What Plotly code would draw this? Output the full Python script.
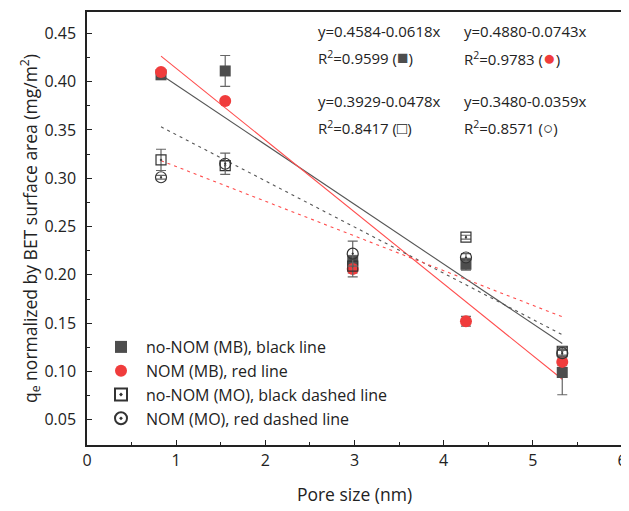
import plotly.graph_objects as go

pore = [0.83, 1.55, 2.98, 4.25, 5.33]

nonom_mb = [0.407, 0.411, 0.215, 0.211, 0.099]
nonom_mb_err = [0.003, 0.016, 0.005, 0.006, 0.023]
nom_mb = [0.410, 0.380, 0.206, 0.152, 0.110]
nom_mb_err = [0.002, 0.002, 0.004, 0.005, 0.004]
nonom_mo = [0.319, 0.313, 0.209, 0.239, 0.121]
nonom_mo_err = [0.011, 0.005, 0.011, 0.002, 0.004]
nom_mo = [0.301, 0.315, 0.222, 0.218, 0.119]
nom_mo_err = [0.002, 0.011, 0.013, 0.004, 0.004]

# fit coefficients (intercept, slope) as printed on the chart
fit_intercepts = [0.4584, 0.4880, 0.3929, 0.3480]
fit_slopes = [-0.0618, -0.0743, -0.0478, -0.0359]
fit_r2 = ["0.9599", "0.9783", "0.8417", "0.8571"]

legend_names = ["no-NOM (MB), black line", "NOM (MB), red line",
                "no-NOM (MO), black dashed line", "NOM (MO), red dashed line"]

FONT = "Open Sans, sans-serif"
GRAY = "#4d4d4d"
RED = "#f03c3c"
TXT = "#222222"

# page body adds an 8px offset; plot area targets screen px 87..622 x 12..445
W, H = 621, 503
L, R, T, B = 79, 7, 4, 66
PX0, PX1, PY0, PY1 = 87, 622, 12, 445

fig = go.Figure()

x_fit = [pore[0], pore[-1]]
line_styles = [
    dict(color="#555555", width=1.1, dash="solid"),
    dict(color="#ff4d4d", width=1.1, dash="solid"),
    dict(color="#555555", width=1.1, dash="3px,4px"),
    dict(color="#ff4d4d", width=1.1, dash="3px,4px"),
]
for a, b, ls in zip(fit_intercepts, fit_slopes, line_styles):
    fig.add_trace(go.Scatter(x=x_fit, y=[a + b * x for x in x_fit], mode="lines",
                             line=ls, showlegend=False, hoverinfo="skip"))

series = [
    (nonom_mb, nonom_mb_err, dict(symbol="square", size=11, color=GRAY)),
    (nom_mb, nom_mb_err, dict(symbol="circle", size=12, color=RED)),
    (nonom_mo, nonom_mo_err, dict(symbol="square-open-dot", size=10, color="#333333",
                                  line=dict(width=1.2, color="#333333"))),
    (nom_mo, nom_mo_err, dict(symbol="circle-open-dot", size=11, color="#333333",
                              line=dict(width=1.2, color="#333333"))),
]
for (ys, es, mk), name in zip(series, legend_names):
    fig.add_trace(go.Scatter(
        x=pore, y=ys, mode="markers", name=name, marker=mk,
        error_y=dict(type="data", array=es, visible=True, color="#666666",
                     thickness=1.2, width=5),
    ))

ann_font = dict(family=FONT, size=15, color=TXT)
labels = [
    ("y=%.4f%.4fx" % (fit_intercepts[0], fit_slopes[0]),
     "R<sup>2</sup>=%s (<span style='color:%s;font-size:19px'>■</span>)" % (fit_r2[0], GRAY), 316, 31),
    ("y=%.4f%.4fx" % (fit_intercepts[1], fit_slopes[1]),
     "R<sup>2</sup>=%s (<span style='color:%s;font-size:21px'>●</span>)" % (fit_r2[1], RED), 462, 31),
    ("y=%.4f%.4fx" % (fit_intercepts[2], fit_slopes[2]),
     "R<sup>2</sup>=%s (<span style='font-size:17px'>□</span>)" % fit_r2[2], 316, 101),
    ("y=%.4f%.4fx" % (fit_intercepts[3], fit_slopes[3]),
     "R<sup>2</sup>=%s (<span style='font-size:17px'>○</span>)" % fit_r2[3], 462, 101),
]
for l1, l2, px, py in labels:
    for txt, yy in ((l1, py), (l2, py + 26)):
        fig.add_annotation(x=(px - PX0) / (PX1 - PX0), y=(PY1 - yy) / (PY1 - PY0),
                           xref="paper", yref="paper",
                           text=txt, showarrow=False, xanchor="left", yanchor="middle",
                           font=ann_font)

axis_common = dict(
    showline=True, linecolor=TXT, linewidth=1.5, mirror=True,
    ticks="inside", ticklen=5, tickwidth=1.3, tickcolor=TXT,
    showgrid=False, zeroline=False, automargin=False,
    tickfont=dict(family=FONT, size=16, color=TXT),
)
fig.update_xaxes(range=[0, 6], dtick=1, tick0=0,
                 minor=dict(ticks="inside", ticklen=3, dtick=0.5, tickcolor=TXT),
                 title=dict(text="Pore size (nm)", font=dict(family=FONT, size=17.5, color=TXT),
                            standoff=19),
                 **axis_common)
fig.update_yaxes(range=[0.024, 0.472], dtick=0.05, tick0=0.05, tickformat=".2f",
                 ticklabelstandoff=6,
                 minor=dict(ticks="inside", ticklen=3, dtick=0.025, tickcolor=TXT),
                 title=dict(text="q<sub>e</sub> normalized by BET surface area (mg/m<sup>2</sup>)",
                            font=dict(family=FONT, size=17.5, color=TXT), standoff=2),
                 **axis_common)

fig.update_layout(
    width=W, height=H,
    margin=dict(l=L, r=R, t=T, b=B),
    plot_bgcolor="white", paper_bgcolor="white",
    font=dict(family=FONT, color=TXT),
    legend=dict(x=(96 - PX0) / (PX1 - PX0), y=(PY1 - 330) / (PY1 - PY0),
                xanchor="left", yanchor="top",
                bgcolor="rgba(0,0,0,0)", font=dict(family=FONT, size=16, color=TXT),
                tracegroupgap=0, itemsizing="constant", itemwidth=40),
)

fig.write_html("out.html")
